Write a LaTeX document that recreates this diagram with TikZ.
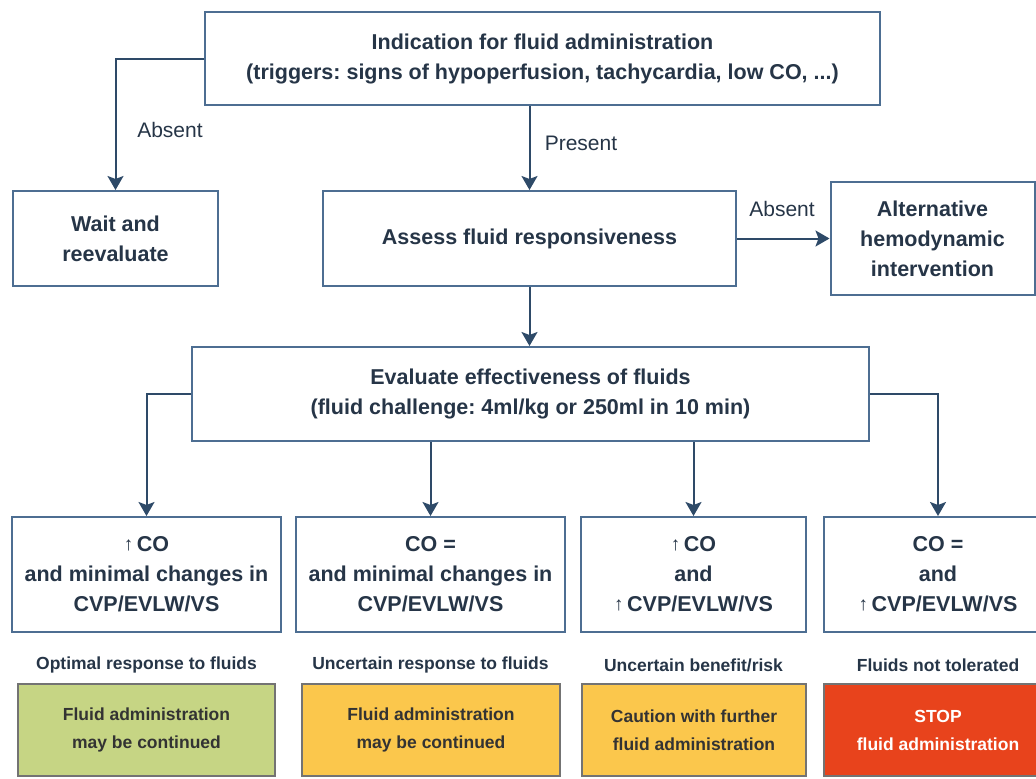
\documentclass[tikz,border=0pt]{standalone}
\usepackage{fontspec}
\setmainfont{Liberation Sans}
\usetikzlibrary{arrows.meta,positioning}

\definecolor{boxBlue}{HTML}{4D6E92}
\definecolor{lineBlue}{HTML}{2E4A68}
\definecolor{textNavy}{HTML}{263547}
\definecolor{okGreen}{HTML}{C6D584}
\definecolor{warnYellow}{HTML}{FBC74C}
\definecolor{stopRed}{HTML}{E8431C}

\newcommand{\upArrow}{\raisebox{1pt}{\mdseries\fontsize{19}{19}\selectfont ↑}\,}
\frenchspacing

\begin{document}
\begin{tikzpicture}[
  x = 1pt, y = -1pt,
  flowbox/.style = {draw=boxBlue, line width=2pt, fill=white, text=textNavy,
    align=center, inner sep=0pt, font=\bfseries\fontsize{21.5}{30}\selectfont},
  flowarrow/.style = {draw=lineBlue, line width=2pt,
    -{Stealth[length=14pt,width=16pt,inset=3pt]}},
  branchlabel/.style = {text=textNavy, font=\fontsize{21}{25}\selectfont},
  resultlabel/.style = {text=textNavy, font=\bfseries\fontsize{17.5}{21}\selectfont},
  actionbox/.style = {draw=black!55, line width=1.5pt, align=center, inner sep=0pt,
    minimum height=92pt, text=black!80, font=\bfseries\fontsize{17.5}{28}\selectfont}]
  \useasboundingbox (0,0) rectangle (1036,779);
  \clip (0,0) rectangle (1036,779);

  \node[flowbox, minimum width=675pt, minimum height=93pt] (indication) at (542.5,58.5)
    {Indication for fluid administration\\(triggers: signs of hypoperfusion, tachycardia, low CO, ...)};

  \node[flowbox, minimum width=205pt, minimum height=95pt] (waitEval) at (115.5,238.5) {Wait and\\reevaluate};
  \node[flowbox, minimum width=413pt, minimum height=95pt] (assess) at (529.5,238.5) {Assess fluid responsiveness};
  \node[flowbox, minimum width=204pt, minimum height=113pt] (altInterv) at (932.5,238.5) {Alternative\\hemodynamic\\intervention};

  \node[flowbox, minimum width=677pt, minimum height=94pt] (evalFluids) at (530.5,394)
    {Evaluate effectiveness of fluids\\(fluid challenge: 4ml/kg or 250ml in 10 min)};

  \node[flowbox, minimum width=269pt, minimum height=115pt] (respUp) at (146.5,574.5) {\upArrow CO\\and minimal changes in\\CVP/EVLW/VS};
  \node[flowbox, minimum width=269pt, minimum height=115pt] (respEq) at (430.5,574.5) {CO =\\and minimal changes in\\CVP/EVLW/VS};
  \node[flowbox, minimum width=225pt, minimum height=115pt] (riskUp) at (693.5,574.5) {\upArrow CO\\and\\\upArrow CVP/EVLW/VS};
  \node[flowbox, minimum width=228pt, minimum height=115pt] (notTol) at (938,574.5) {CO =\\and\\\upArrow CVP/EVLW/VS};

  \node[resultlabel] (lblOptimal) at (146.5,665) {Optimal response to fluids};
  \node[resultlabel] (lblUncertain) at (430.5,665) {Uncertain response to fluids};
  \node[resultlabel] (lblRisk) at (693.5,665) {Uncertain benefit/risk};
  \node[resultlabel] (lblStop) at (938,665) {Fluids not tolerated};

  \node[actionbox, fill=okGreen, minimum width=257pt] (actOptimal) at (146.5,730) {Fluid administration\\may be continued};
  \node[actionbox, fill=warnYellow, minimum width=258pt] (actUncertain) at (431,730) {Fluid administration\\may be continued};
  \node[actionbox, fill=warnYellow, minimum width=224pt] (actCaution) at (694,730) {Caution with further\\fluid administration};
  \node[actionbox, fill=stopRed, text=white, minimum width=228pt] (actStop) at (938,730) {STOP\\fluid administration};

  \draw[flowarrow] (indication.west) -| (waitEval.north);
  \node[branchlabel] (lblAbsentWait) at (170,130) {Absent};
  \draw[flowarrow] (assess.north |- indication.south) -- (assess.north);
  \node[branchlabel] (lblPresent) at (581,143) {Present};
  \draw[flowarrow] (assess.east) -- (altInterv.west);
  \node[branchlabel] (lblAbsentAlt) at (782,209) {Absent};
  \draw[flowarrow] (assess.south) -- (assess.south |- evalFluids.north);

  \draw[flowarrow] (evalFluids.west) -| (respUp.north);
  \draw[flowarrow] (respEq.north |- evalFluids.south) -- (respEq.north);
  \draw[flowarrow] (riskUp.north |- evalFluids.south) -- (riskUp.north);
  \draw[flowarrow] (evalFluids.east) -| (notTol.north);
\end{tikzpicture}
\end{document}
